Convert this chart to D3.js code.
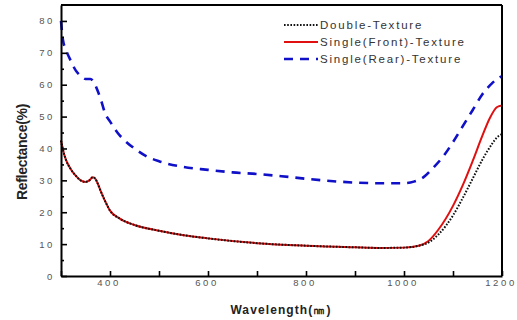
<!DOCTYPE html>
<html>
<head>
<meta charset="utf-8">
<script src="https://cdnjs.cloudflare.com/ajax/libs/d3/7.8.5/d3.min.js"></script>
<style>
  body { margin: 0; background: #fff; }
  text { font-family: "Liberation Sans", Arial, sans-serif; }
</style>
</head>
<body>
<div id="chart"></div>
<script>
// data (wavelength in nm, reflectance in %)
let frontWave = [300, 305, 310, 320, 330, 340, 350, 358, 365, 370, 375, 380, 390, 400, 420, 450, 500, 550, 600, 700, 800, 900, 950, 1000, 1030, 1050, 1070, 1100, 1120, 1140, 1160, 1175, 1190, 1200];
let frontVals = [42.5, 39, 36.5, 33.5, 31.5, 30, 29.5, 30, 31, 30.5, 29, 27, 23.5, 20.5, 18, 16, 14.2, 12.8, 11.8, 10.3, 9.5, 9, 8.8, 8.9, 9.5, 11, 14.5, 22, 28.5, 36, 44, 49.5, 53, 53.5];

let doubleWave = [300, 305, 310, 320, 330, 340, 350, 358, 365, 370, 375, 380, 390, 400, 420, 450, 500, 550, 600, 700, 800, 900, 950, 1000, 1030, 1050, 1070, 1100, 1120, 1140, 1160, 1180, 1190, 1200];
let doubleVals = [42.5, 39, 36.5, 33.5, 31.5, 30, 29.5, 30, 31, 30.5, 29, 27, 23.5, 20.5, 18, 16, 14.2, 12.8, 11.8, 10.3, 9.5, 9, 8.8, 8.9, 9.5, 10.5, 13, 19, 24.5, 30.5, 36.5, 41.5, 43.5, 44.5];

let rearWave = [300, 304, 310, 320, 330, 340, 350, 360, 368, 375, 382, 390, 400, 415, 430, 450, 475, 500, 550, 600, 650, 700, 750, 800, 850, 900, 950, 1000, 1020, 1040, 1060, 1080, 1100, 1120, 1140, 1160, 1180, 1195, 1200];
let rearVals = [80, 74, 71, 67.5, 64.5, 62.8, 61.8, 61.8, 60.5, 58, 55, 51, 48.5, 45, 42.5, 40, 37.5, 36, 34.2, 33.3, 32.5, 32, 31.3, 30.5, 29.8, 29.3, 29.1, 29.1, 29.6, 31, 34, 37.5, 42, 47, 52, 57, 60.5, 62.3, 62.7];

let seriesNames = ["Double-Texture", "Single(Front)-Texture", "Single(Rear)-Texture"];
let xTickVals = [300, 400, 500, 600, 700, 800, 900, 1000, 1100, 1200];
let yTickVals = [0, 5, 10, 15, 20, 25, 30, 35, 40, 45, 50, 55, 60, 65, 70, 75, 80];

// setup svg
let svgWidth = 517;
let svgHeight = 320;
let plot = { left: 61, right: 502, top: 5, bottom: 276 };

let svg = d3.select("#chart")
            .append("svg")
            .attr("width", svgWidth)
            .attr("height", svgHeight);

// scales
let xScale = d3.scaleLinear().domain([300, 1200]).range([plot.left, plot.right]);
let yScale = d3.scaleLinear().domain([0, 85]).range([plot.bottom, plot.top]);

// series styles
let styles = [
  { wave: doubleWave, vals: doubleVals, color: "#111", width: 2, dash: "1.6,1.6" },
  { wave: frontWave, vals: frontVals, color: "#e01010", width: 2, dash: null },
  { wave: rearWave, vals: rearVals, color: "#1010c8", width: 2.6, dash: "9,7" }
];

let line = d3.line()
             .x(d => xScale(d[0]))
             .y(d => yScale(d[1]))
             .curve(d3.curveMonotoneX);

let curves = svg.append("g");
// draw rear, front, then double dotted on top
[2, 1, 0].forEach(function(i) {
  let s = styles[i];
  let pts = s.wave.map((w, k) => [w, s.vals[k]]);
  curves.append("path")
        .datum(pts)
        .attr("d", line)
        .attr("fill", "none")
        .attr("stroke", s.color)
        .attr("stroke-width", s.width)
        .attr("stroke-dasharray", s.dash);
});

// frame top and right
svg.append("line")
   .attr("x1", plot.left).attr("x2", plot.right)
   .attr("y1", plot.top).attr("y2", plot.top)
   .attr("stroke", "#000").attr("stroke-width", 2);
svg.append("line")
   .attr("x1", plot.right).attr("x2", plot.right)
   .attr("y1", plot.top).attr("y2", plot.bottom)
   .attr("stroke", "#000").attr("stroke-width", 2);

// bottom axis (ticks point inward)
let bottomAxis = d3.axisBottom(xScale)
                   .tickValues(xTickVals)
                   .tickSizeInner(-5)
                   .tickSizeOuter(0)
                   .tickPadding(3)
                   .tickFormat(d => (d % 200 === 0 ? d : ""));

let xg = svg.append("g")
            .attr("transform", `translate(0,${plot.bottom})`)
            .call(bottomAxis);

// left axis
let leftAxis = d3.axisLeft(yScale)
                 .tickValues(yTickVals)
                 .tickSizeInner(-6)
                 .tickSizeOuter(0)
                 .tickPadding(6)
                 .tickFormat(d => (d % 10 === 0 ? d : ""));

let yg = svg.append("g")
            .attr("transform", `translate(${plot.left},0)`)
            .call(leftAxis);

yg.selectAll(".tick line")
  .attr("x2", d => (d % 10 === 0 ? 6 : 3));

[xg, yg].forEach(function(g) {
  g.select(".domain").attr("stroke", "#000").attr("stroke-width", 2);
  g.selectAll(".tick line").attr("stroke", "#000").attr("stroke-width", 1.6);
  g.selectAll(".tick text")
   .attr("fill", "#555")
   .style("font-size", "9.5px")
   .style("letter-spacing", "2.6px")
   .style("font-family", "'Liberation Sans', Arial, sans-serif");
});
xg.selectAll(".tick text").attr("dx", "-1.5px");

// axis titles
svg.append("text")
   .attr("x", 281)
   .attr("y", 314)
   .attr("text-anchor", "middle")
   .style("font-size", "12px")
   .style("font-weight", "bold")
   .style("letter-spacing", "1.1px")
   .attr("fill", "#222")
   .text("Wavelength(㎚)");

svg.append("text")
   .attr("transform", "translate(27,152) rotate(-90)")
   .attr("text-anchor", "middle")
   .style("font-size", "14px")
   .style("font-weight", "bold")
   .style("letter-spacing", "-0.3px")
   .attr("fill", "#222")
   .text("Reflectance(%)");

// legend
let legendY = [25, 42, 59];
let legend = svg.append("g");
styles.forEach(function(s, i) {
  legend.append("line")
        .attr("x1", 284).attr("x2", 318)
        .attr("y1", legendY[i]).attr("y2", legendY[i])
        .attr("stroke", s.color)
        .attr("stroke-width", s.width)
        .attr("stroke-dasharray", s.dash);
  legend.append("text")
        .attr("x", 320)
        .attr("y", legendY[i] + 4)
        .style("font-size", "11.5px")
        .style("letter-spacing", "1.8px")
        .attr("fill", "#333")
        .text(seriesNames[i]);
});
</script>
</body>
</html>
